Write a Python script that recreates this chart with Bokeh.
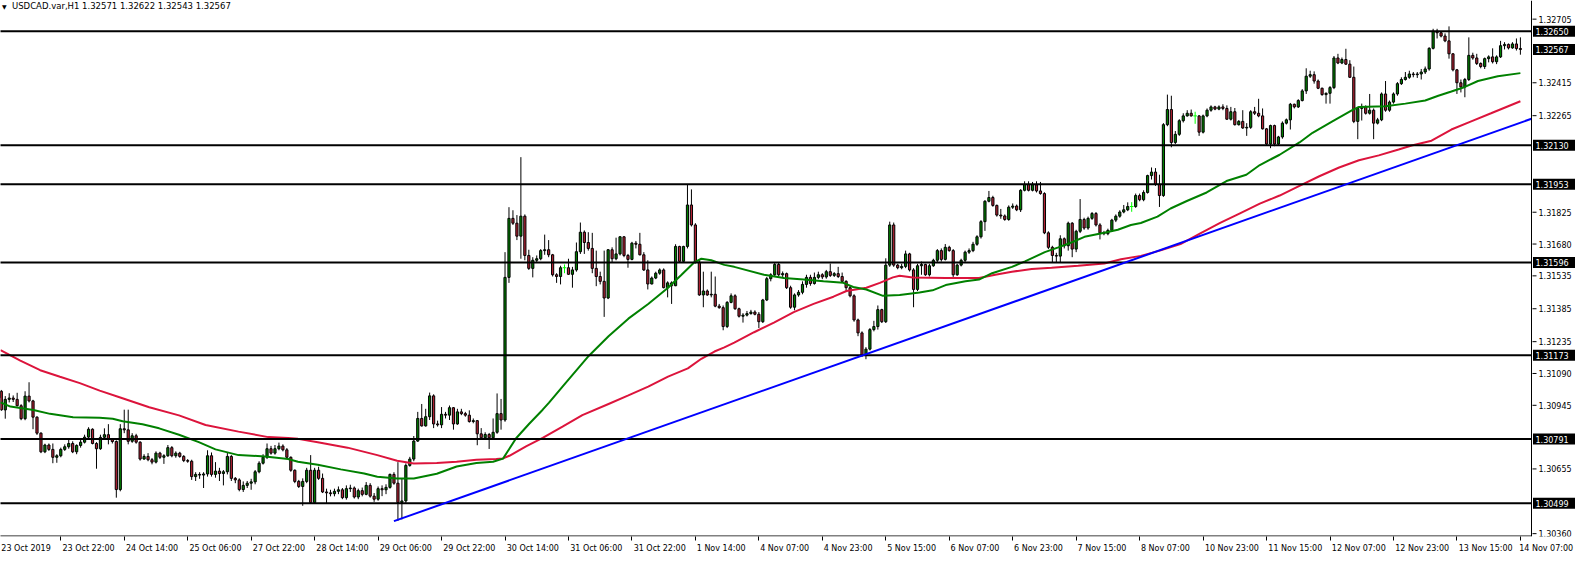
from bokeh.plotting import figure
from bokeh.models import (ColumnDataSource, Span, Label, LinearAxis, FixedTicker, Range1d,
                          CustomJSTickFormatter)
from bokeh.core.properties import value
from bokeh.embed import file_html
from bokeh.resources import INLINE

# ---------------- data ----------------
chart_title = "USDCAD.var,H1  1.32571 1.32622 1.32543 1.32567"

opens = [
    1.30980, 1.31009, 1.30924, 1.30972, 1.30978, 1.30972, 1.30943, 1.30884, 1.30987, 1.30965,
    1.30891, 1.30818, 1.30733, 1.30764, 1.30744, 1.30708, 1.30715, 1.30744, 1.30756, 1.30771,
    1.30733, 1.30762, 1.30777, 1.30800, 1.30836, 1.30771, 1.30747, 1.30799, 1.30811, 1.30792,
    1.30780, 1.30561, 1.30838, 1.30833, 1.30781, 1.30806, 1.30777, 1.30700, 1.30712, 1.30697,
    1.30686, 1.30727, 1.30708, 1.30715, 1.30752, 1.30715, 1.30727, 1.30712, 1.30693, 1.30690,
    1.30620, 1.30630, 1.30627, 1.30632, 1.30715, 1.30630, 1.30645, 1.30634, 1.30642, 1.30712,
    1.30612, 1.30605, 1.30561, 1.30580, 1.30590, 1.30596, 1.30642, 1.30681, 1.30708, 1.30747,
    1.30727, 1.30747, 1.30759, 1.30742, 1.30708, 1.30649, 1.30598, 1.30575, 1.30598, 1.30649,
    1.30502, 1.30649, 1.30612, 1.30550, 1.30546, 1.30542, 1.30553, 1.30560, 1.30524, 1.30565,
    1.30568, 1.30527, 1.30556, 1.30539, 1.30580, 1.30531, 1.30517, 1.30565, 1.30560, 1.30571,
    1.30630, 1.30590, 1.30502, 1.30509, 1.30671, 1.30700, 1.30782, 1.30885, 1.30851, 1.30893,
    1.30988, 1.30860, 1.30856, 1.30904, 1.30900, 1.30934, 1.30860, 1.30915, 1.30907, 1.30900,
    1.30871, 1.30875, 1.30815, 1.30797, 1.30812, 1.30797, 1.30822, 1.30907, 1.30878, 1.31528,
    1.31797, 1.31775, 1.31716, 1.31807, 1.31628, 1.31569, 1.31606, 1.31613, 1.31650, 1.31654,
    1.31631, 1.31540, 1.31532, 1.31572, 1.31572, 1.31542, 1.31562, 1.31645, 1.31734, 1.31687,
    1.31660, 1.31569, 1.31532, 1.31510, 1.31434, 1.31654, 1.31613, 1.31635, 1.31713, 1.31628,
    1.31610, 1.31684, 1.31679, 1.31631, 1.31562, 1.31498, 1.31525, 1.31547, 1.31562, 1.31481,
    1.31503, 1.31490, 1.31669, 1.31601, 1.31669, 1.31858, 1.31767, 1.31598, 1.31448, 1.31466,
    1.31448, 1.31451, 1.31397, 1.31390, 1.31304, 1.31414, 1.31444, 1.31385, 1.31351, 1.31356,
    1.31363, 1.31370, 1.31360, 1.31326, 1.31425, 1.31522, 1.31540, 1.31587, 1.31540, 1.31545,
    1.31481, 1.31392, 1.31448, 1.31460, 1.31496, 1.31528, 1.31500, 1.31528, 1.31540, 1.31530,
    1.31554, 1.31537, 1.31545, 1.31532, 1.31510, 1.31481, 1.31444, 1.31334, 1.31275, 1.31172,
    1.31201, 1.31290, 1.31304, 1.31381, 1.31326, 1.31584, 1.31767, 1.31584, 1.31572, 1.31578,
    1.31635, 1.31562, 1.31473, 1.31581, 1.31587, 1.31540, 1.31581, 1.31606, 1.31650, 1.31610,
    1.31665, 1.31650, 1.31540, 1.31584, 1.31606, 1.31643, 1.31650, 1.31679, 1.31713, 1.31782,
    1.31875, 1.31892, 1.31856, 1.31812, 1.31808, 1.31792, 1.31848, 1.31853, 1.31836, 1.31925,
    1.31951, 1.31925, 1.31950, 1.31922, 1.31910, 1.31731, 1.31665, 1.31628, 1.31625, 1.31704,
    1.31672, 1.31775, 1.31657, 1.31738, 1.31792, 1.31753, 1.31797, 1.31819, 1.31767, 1.31731,
    1.31727, 1.31742, 1.31789, 1.31807, 1.31826, 1.31836, 1.31851, 1.31851, 1.31901, 1.31882,
    1.31915, 1.31992, 1.32008, 1.31952, 1.31901, 1.32224, 1.32293, 1.32143, 1.32180, 1.32242,
    1.32264, 1.32276, 1.32264, 1.32264, 1.32190, 1.32264, 1.32290, 1.32305, 1.32295, 1.32305,
    1.32298, 1.32249, 1.32283, 1.32224, 1.32239, 1.32209, 1.32212, 1.32283, 1.32276, 1.32264,
    1.32205, 1.32136, 1.32220, 1.32136, 1.32168, 1.32231, 1.32246, 1.32317, 1.32305, 1.32334,
    1.32378, 1.32445, 1.32452, 1.32423, 1.32390, 1.32361, 1.32367, 1.32393, 1.32528, 1.32505,
    1.32521, 1.32500, 1.32440, 1.32239, 1.32298, 1.32305, 1.32276, 1.32290, 1.32231, 1.32246,
    1.32364, 1.32290, 1.32327, 1.32364, 1.32411, 1.32430, 1.32440, 1.32455, 1.32452, 1.32455,
    1.32464, 1.32478, 1.32572, 1.32650, 1.32643, 1.32628, 1.32606, 1.32547, 1.32474, 1.32415,
    1.32396, 1.32430, 1.32540, 1.32528, 1.32503, 1.32489, 1.32525, 1.32533, 1.32511, 1.32533,
    1.32584, 1.32590, 1.32574, 1.32592, 1.32571,
]

highs = [
    1.31020, 1.31015, 1.30987, 1.31000, 1.30990, 1.31002, 1.30950, 1.31009, 1.31050, 1.30970,
    1.30895, 1.30822, 1.30770, 1.30771, 1.30771, 1.30722, 1.30752, 1.30767, 1.30789, 1.30781,
    1.30767, 1.30789, 1.30811, 1.30845, 1.30840, 1.30777, 1.30811, 1.30840, 1.30859, 1.30796,
    1.30785, 1.30859, 1.30925, 1.30925, 1.30818, 1.30815, 1.30781, 1.30722, 1.30727, 1.30705,
    1.30735, 1.30733, 1.30722, 1.30764, 1.30759, 1.30735, 1.30733, 1.30718, 1.30700, 1.30697,
    1.30640, 1.30640, 1.30640, 1.30740, 1.30730, 1.30686, 1.30660, 1.30650, 1.30730, 1.30718,
    1.30618, 1.30612, 1.30598, 1.30600, 1.30610, 1.30650, 1.30690, 1.30722, 1.30771, 1.30760,
    1.30764, 1.30775, 1.30767, 1.30750, 1.30712, 1.30653, 1.30605, 1.30612, 1.30660, 1.30718,
    1.30660, 1.30665, 1.30634, 1.30565, 1.30560, 1.30565, 1.30575, 1.30568, 1.30580, 1.30583,
    1.30575, 1.30565, 1.30570, 1.30595, 1.30590, 1.30545, 1.30575, 1.30580, 1.30585, 1.30634,
    1.30640, 1.30686, 1.30612, 1.30680, 1.30710, 1.30805, 1.30915, 1.30951, 1.30929, 1.31003,
    1.30995, 1.30875, 1.30937, 1.30915, 1.30944, 1.30937, 1.30929, 1.30929, 1.30915, 1.30922,
    1.30885, 1.30878, 1.30841, 1.30822, 1.30819, 1.30885, 1.30999, 1.30974, 1.31643, 1.31848,
    1.31834, 1.31812, 1.32076, 1.31815, 1.31654, 1.31620, 1.31628, 1.31657, 1.31723, 1.31698,
    1.31635, 1.31547, 1.31581, 1.31587, 1.31613, 1.31576, 1.31687, 1.31778, 1.31742, 1.31734,
    1.31731, 1.31650, 1.31554, 1.31650, 1.31657, 1.31665, 1.31709, 1.31716, 1.31716, 1.31635,
    1.31690, 1.31694, 1.31731, 1.31643, 1.31606, 1.31532, 1.31554, 1.31569, 1.31569, 1.31510,
    1.31510, 1.31679, 1.31672, 1.31672, 1.31951, 1.31929, 1.31775, 1.31606, 1.31554, 1.31473,
    1.31554, 1.31532, 1.31407, 1.31400, 1.31420, 1.31455, 1.31451, 1.31390, 1.31365, 1.31375,
    1.31380, 1.31378, 1.31370, 1.31430, 1.31530, 1.31547, 1.31598, 1.31598, 1.31555, 1.31550,
    1.31490, 1.31455, 1.31470, 1.31510, 1.31540, 1.31540, 1.31550, 1.31554, 1.31547, 1.31562,
    1.31591, 1.31552, 1.31576, 1.31550, 1.31515, 1.31488, 1.31451, 1.31340, 1.31282, 1.31210,
    1.31297, 1.31330, 1.31400, 1.31385, 1.31615, 1.31782, 1.31778, 1.31590, 1.31590, 1.31650,
    1.31640, 1.31570, 1.31590, 1.31600, 1.31590, 1.31590, 1.31613, 1.31657, 1.31660, 1.31680,
    1.31672, 1.31657, 1.31590, 1.31613, 1.31650, 1.31660, 1.31690, 1.31720, 1.31789, 1.31880,
    1.31922, 1.31900, 1.31860, 1.31840, 1.31815, 1.31856, 1.31865, 1.31860, 1.31930, 1.31966,
    1.31966, 1.31963, 1.31966, 1.31963, 1.31916, 1.31738, 1.31672, 1.31640, 1.31720, 1.31710,
    1.31782, 1.31780, 1.31745, 1.31885, 1.31800, 1.31805, 1.31826, 1.31826, 1.31775, 1.31740,
    1.31750, 1.31795, 1.31815, 1.31834, 1.31858, 1.31870, 1.31871, 1.31910, 1.31910, 1.31925,
    1.31996, 1.32029, 1.32026, 1.31996, 1.32231, 1.32361, 1.32356, 1.32195, 1.32249, 1.32276,
    1.32290, 1.32293, 1.32283, 1.32268, 1.32270, 1.32298, 1.32312, 1.32310, 1.32312, 1.32317,
    1.32312, 1.32305, 1.32300, 1.32245, 1.32290, 1.32231, 1.32290, 1.32305, 1.32342, 1.32298,
    1.32209, 1.32224, 1.32224, 1.32173, 1.32239, 1.32252, 1.32323, 1.32320, 1.32340, 1.32386,
    1.32481, 1.32470, 1.32467, 1.32430, 1.32393, 1.32371, 1.32400, 1.32537, 1.32547, 1.32530,
    1.32570, 1.32518, 1.32489, 1.32305, 1.32320, 1.32312, 1.32364, 1.32298, 1.32255, 1.32371,
    1.32423, 1.32334, 1.32371, 1.32418, 1.32440, 1.32464, 1.32470, 1.32464, 1.32464, 1.32478,
    1.32489, 1.32577, 1.32661, 1.32661, 1.32650, 1.32640, 1.32672, 1.32550, 1.32478, 1.32430,
    1.32437, 1.32622, 1.32552, 1.32547, 1.32508, 1.32530, 1.32540, 1.32572, 1.32540, 1.32606,
    1.32600, 1.32594, 1.32600, 1.32617, 1.32622,
]

lows = [
    1.30970, 1.30920, 1.30884, 1.30958, 1.30960, 1.30940, 1.30877, 1.30877, 1.30958, 1.30836,
    1.30810, 1.30727, 1.30727, 1.30737, 1.30681, 1.30683, 1.30708, 1.30737, 1.30747, 1.30727,
    1.30722, 1.30752, 1.30771, 1.30789, 1.30767, 1.30656, 1.30742, 1.30790, 1.30767, 1.30771,
    1.30524, 1.30553, 1.30818, 1.30767, 1.30774, 1.30770, 1.30693, 1.30697, 1.30690, 1.30676,
    1.30680, 1.30700, 1.30678, 1.30710, 1.30708, 1.30706, 1.30706, 1.30686, 1.30683, 1.30605,
    1.30600, 1.30610, 1.30568, 1.30620, 1.30620, 1.30615, 1.30600, 1.30580, 1.30630, 1.30600,
    1.30590, 1.30553, 1.30550, 1.30568, 1.30560, 1.30585, 1.30635, 1.30675, 1.30700, 1.30720,
    1.30720, 1.30740, 1.30735, 1.30700, 1.30642, 1.30590, 1.30568, 1.30487, 1.30590, 1.30495,
    1.30495, 1.30605, 1.30545, 1.30497, 1.30530, 1.30530, 1.30540, 1.30517, 1.30515, 1.30550,
    1.30520, 1.30517, 1.30530, 1.30535, 1.30524, 1.30505, 1.30510, 1.30531, 1.30540, 1.30565,
    1.30583, 1.30418, 1.30425, 1.30500, 1.30665, 1.30690, 1.30778, 1.30848, 1.30848, 1.30878,
    1.30841, 1.30848, 1.30841, 1.30885, 1.30878, 1.30834, 1.30856, 1.30900, 1.30893, 1.30866,
    1.30863, 1.30763, 1.30790, 1.30790, 1.30746, 1.30790, 1.30815, 1.30834, 1.30870, 1.31503,
    1.31767, 1.31698, 1.31613, 1.31606, 1.31562, 1.31528, 1.31598, 1.31606, 1.31631, 1.31620,
    1.31532, 1.31503, 1.31496, 1.31547, 1.31540, 1.31481, 1.31554, 1.31635, 1.31635, 1.31650,
    1.31547, 1.31488, 1.31496, 1.31348, 1.31429, 1.31598, 1.31606, 1.31628, 1.31620, 1.31572,
    1.31606, 1.31660, 1.31628, 1.31557, 1.31473, 1.31496, 1.31520, 1.31540, 1.31478, 1.31437,
    1.31407, 1.31488, 1.31598, 1.31598, 1.31660, 1.31760, 1.31591, 1.31444, 1.31392, 1.31444,
    1.31437, 1.31392, 1.31385, 1.31287, 1.31297, 1.31410, 1.31380, 1.31345, 1.31322, 1.31350,
    1.31358, 1.31355, 1.31297, 1.31320, 1.31420, 1.31510, 1.31532, 1.31532, 1.31530, 1.31475,
    1.31385, 1.31378, 1.31440, 1.31451, 1.31481, 1.31490, 1.31495, 1.31520, 1.31520, 1.31522,
    1.31530, 1.31530, 1.31525, 1.31505, 1.31466, 1.31437, 1.31326, 1.31260, 1.31165, 1.31155,
    1.31195, 1.31282, 1.31290, 1.31320, 1.31320, 1.31576, 1.31576, 1.31565, 1.31565, 1.31570,
    1.31555, 1.31392, 1.31466, 1.31540, 1.31535, 1.31532, 1.31576, 1.31598, 1.31600, 1.31605,
    1.31645, 1.31530, 1.31535, 1.31578, 1.31598, 1.31635, 1.31643, 1.31672, 1.31705, 1.31740,
    1.31870, 1.31850, 1.31805, 1.31795, 1.31786, 1.31786, 1.31840, 1.31830, 1.31826, 1.31920,
    1.31920, 1.31920, 1.31915, 1.31905, 1.31725, 1.31657, 1.31598, 1.31598, 1.31598, 1.31660,
    1.31650, 1.31620, 1.31643, 1.31730, 1.31745, 1.31745, 1.31790, 1.31760, 1.31701, 1.31720,
    1.31720, 1.31735, 1.31780, 1.31800, 1.31820, 1.31830, 1.31827, 1.31845, 1.31875, 1.31875,
    1.31910, 1.31974, 1.31945, 1.31849, 1.31895, 1.32217, 1.32121, 1.32136, 1.32173, 1.32234,
    1.32261, 1.32261, 1.32228, 1.32173, 1.32184, 1.32258, 1.32283, 1.32290, 1.32290, 1.32290,
    1.32246, 1.32243, 1.32220, 1.32220, 1.32205, 1.32173, 1.32205, 1.32268, 1.32258, 1.32202,
    1.32129, 1.32117, 1.32126, 1.32131, 1.32160, 1.32225, 1.32202, 1.32298, 1.32300, 1.32330,
    1.32364, 1.32437, 1.32411, 1.32386, 1.32356, 1.32320, 1.32320, 1.32386, 1.32500, 1.32500,
    1.32496, 1.32437, 1.32231, 1.32158, 1.32243, 1.32270, 1.32270, 1.32158, 1.32225, 1.32240,
    1.32283, 1.32283, 1.32320, 1.32356, 1.32405, 1.32425, 1.32433, 1.32440, 1.32437, 1.32430,
    1.32455, 1.32470, 1.32567, 1.32617, 1.32622, 1.32600, 1.32525, 1.32467, 1.32364, 1.32371,
    1.32349, 1.32423, 1.32520, 1.32496, 1.32481, 1.32478, 1.32508, 1.32503, 1.32500, 1.32528,
    1.32567, 1.32567, 1.32570, 1.32562, 1.32543,
]

closes = [
    1.31009, 1.30924, 1.30972, 1.30978, 1.30972, 1.30943, 1.30884, 1.30987, 1.30965, 1.30891,
    1.30818, 1.30733, 1.30764, 1.30744, 1.30708, 1.30715, 1.30744, 1.30756, 1.30771, 1.30733,
    1.30762, 1.30777, 1.30800, 1.30836, 1.30771, 1.30747, 1.30799, 1.30811, 1.30792, 1.30780,
    1.30561, 1.30838, 1.30833, 1.30781, 1.30806, 1.30777, 1.30700, 1.30712, 1.30697, 1.30686,
    1.30727, 1.30708, 1.30715, 1.30752, 1.30715, 1.30727, 1.30712, 1.30693, 1.30690, 1.30620,
    1.30630, 1.30627, 1.30632, 1.30715, 1.30630, 1.30645, 1.30634, 1.30642, 1.30712, 1.30612,
    1.30605, 1.30561, 1.30580, 1.30590, 1.30596, 1.30642, 1.30681, 1.30708, 1.30747, 1.30727,
    1.30747, 1.30759, 1.30742, 1.30708, 1.30649, 1.30598, 1.30575, 1.30598, 1.30649, 1.30502,
    1.30649, 1.30612, 1.30550, 1.30546, 1.30542, 1.30553, 1.30560, 1.30524, 1.30565, 1.30568,
    1.30527, 1.30556, 1.30539, 1.30580, 1.30531, 1.30517, 1.30565, 1.30560, 1.30571, 1.30630,
    1.30590, 1.30502, 1.30509, 1.30671, 1.30700, 1.30782, 1.30885, 1.30851, 1.30893, 1.30988,
    1.30860, 1.30856, 1.30904, 1.30900, 1.30934, 1.30860, 1.30915, 1.30907, 1.30900, 1.30871,
    1.30875, 1.30815, 1.30797, 1.30812, 1.30797, 1.30822, 1.30907, 1.30878, 1.31528, 1.31797,
    1.31775, 1.31716, 1.31807, 1.31628, 1.31569, 1.31606, 1.31613, 1.31650, 1.31654, 1.31631,
    1.31540, 1.31532, 1.31572, 1.31572, 1.31542, 1.31562, 1.31645, 1.31734, 1.31687, 1.31660,
    1.31569, 1.31532, 1.31510, 1.31434, 1.31654, 1.31613, 1.31635, 1.31713, 1.31628, 1.31610,
    1.31684, 1.31679, 1.31631, 1.31562, 1.31498, 1.31525, 1.31547, 1.31562, 1.31481, 1.31503,
    1.31490, 1.31669, 1.31601, 1.31669, 1.31858, 1.31767, 1.31598, 1.31448, 1.31466, 1.31448,
    1.31451, 1.31397, 1.31390, 1.31304, 1.31414, 1.31444, 1.31385, 1.31351, 1.31356, 1.31363,
    1.31370, 1.31360, 1.31326, 1.31425, 1.31522, 1.31540, 1.31587, 1.31540, 1.31545, 1.31481,
    1.31392, 1.31448, 1.31460, 1.31496, 1.31528, 1.31500, 1.31528, 1.31540, 1.31530, 1.31554,
    1.31537, 1.31545, 1.31532, 1.31510, 1.31481, 1.31444, 1.31334, 1.31275, 1.31172, 1.31201,
    1.31290, 1.31304, 1.31381, 1.31326, 1.31584, 1.31767, 1.31584, 1.31572, 1.31578, 1.31635,
    1.31562, 1.31473, 1.31581, 1.31587, 1.31540, 1.31581, 1.31606, 1.31650, 1.31610, 1.31665,
    1.31650, 1.31540, 1.31584, 1.31606, 1.31643, 1.31650, 1.31679, 1.31713, 1.31782, 1.31875,
    1.31892, 1.31856, 1.31812, 1.31808, 1.31792, 1.31848, 1.31853, 1.31836, 1.31925, 1.31951,
    1.31925, 1.31950, 1.31922, 1.31910, 1.31731, 1.31665, 1.31628, 1.31625, 1.31704, 1.31672,
    1.31775, 1.31657, 1.31738, 1.31792, 1.31753, 1.31797, 1.31819, 1.31767, 1.31731, 1.31727,
    1.31742, 1.31789, 1.31807, 1.31826, 1.31836, 1.31851, 1.31851, 1.31901, 1.31882, 1.31915,
    1.31992, 1.32008, 1.31952, 1.31901, 1.32224, 1.32293, 1.32143, 1.32180, 1.32242, 1.32264,
    1.32276, 1.32264, 1.32264, 1.32190, 1.32264, 1.32290, 1.32305, 1.32295, 1.32305, 1.32298,
    1.32249, 1.32283, 1.32224, 1.32239, 1.32209, 1.32212, 1.32283, 1.32276, 1.32264, 1.32205,
    1.32136, 1.32220, 1.32136, 1.32168, 1.32231, 1.32246, 1.32317, 1.32305, 1.32334, 1.32378,
    1.32445, 1.32452, 1.32423, 1.32390, 1.32361, 1.32367, 1.32393, 1.32528, 1.32505, 1.32521,
    1.32500, 1.32440, 1.32239, 1.32298, 1.32305, 1.32276, 1.32290, 1.32231, 1.32246, 1.32364,
    1.32290, 1.32327, 1.32364, 1.32411, 1.32430, 1.32440, 1.32455, 1.32452, 1.32455, 1.32464,
    1.32478, 1.32572, 1.32650, 1.32643, 1.32628, 1.32606, 1.32547, 1.32474, 1.32415, 1.32396,
    1.32430, 1.32540, 1.32528, 1.32503, 1.32489, 1.32525, 1.32533, 1.32511, 1.32533, 1.32584,
    1.32590, 1.32574, 1.32592, 1.32571, 1.32567,
]

# time-axis labels, one every 16 hourly bars starting at the first bar
date_labels = [
    "23 Oct 2019", "23 Oct 22:00", "24 Oct 14:00", "25 Oct 06:00", "27 Oct 22:00",
    "28 Oct 14:00", "29 Oct 06:00", "29 Oct 22:00", "30 Oct 14:00", "31 Oct 06:00",
    "31 Oct 22:00", "1 Nov 14:00", "4 Nov 07:00", "4 Nov 23:00", "5 Nov 15:00",
    "6 Nov 07:00", "6 Nov 23:00", "7 Nov 15:00", "8 Nov 07:00", "10 Nov 23:00",
    "11 Nov 15:00", "12 Nov 07:00", "12 Nov 23:00", "13 Nov 15:00", "14 Nov 07:00",
]
bars_per_label = 16

price_ticks = [1.32705, 1.32415, 1.32265, 1.31825, 1.31680, 1.31535, 1.31385,
               1.31235, 1.31090, 1.30945, 1.30655, 1.30360]
level_prices = [1.32650, 1.32130, 1.31953, 1.31596, 1.31173, 1.30791, 1.30499]
last_price = 1.32567

# moving averages (bar position, value)
ma_fast_x = [0.8, 3.3, 9.1, 13.3, 19.1, 25.8, 29.1, 31.6, 36.6, 40.8, 45.8, 50.8, 55.0, 60.8, 67.5,
             73.3, 75.8, 80.8, 86.6, 92.5, 95.8, 100.8, 105.0, 110.8, 115.8, 120.8, 125.0, 127.5,
             130.8, 134.1, 137.5, 139.1, 142.5, 149.1, 154.1, 159.1, 164.1, 169.1, 172.5, 175.8,
             177.5, 180.0, 183.3, 185.8, 193.3, 198.3, 203.3, 208.3, 213.3, 215.8, 219.1, 223.3,
             227.5, 232.5, 235.8, 239.1, 244.1, 247.5, 250.8, 255.8, 259.1, 264.1, 267.5, 270.8,
             274.1, 279.1, 282.5, 285.8, 288.3, 292.5, 295.8, 299.9, 304.9, 309.9, 314.9, 318.3,
             323.3, 328.3, 331.6, 336.6, 341.6, 343.3, 350.0, 355.0, 360.0, 363.3, 366.6, 370.0,
             373.3, 378.3, 384.0]
ma_fast = [1.30958, 1.30939, 1.30924, 1.30906, 1.30891, 1.30888, 1.30884, 1.30872, 1.30859, 1.30840,
           1.30811, 1.30777, 1.30744, 1.30718, 1.30712, 1.30700, 1.30688, 1.30674, 1.30653, 1.30634,
           1.30619, 1.30611, 1.30611, 1.30633, 1.30666, 1.30682, 1.30688, 1.30702, 1.30795, 1.30861,
           1.30925, 1.30957, 1.31030, 1.31170, 1.31260, 1.31340, 1.31407, 1.31481, 1.31540, 1.31598,
           1.31613, 1.31606, 1.31585, 1.31576, 1.31540, 1.31525, 1.31518, 1.31510, 1.31503, 1.31484,
           1.31473, 1.31444, 1.31448, 1.31459, 1.31469, 1.31493, 1.31510, 1.31518, 1.31547, 1.31576,
           1.31601, 1.31643, 1.31665, 1.31687, 1.31713, 1.31731, 1.31745, 1.31767, 1.31776, 1.31805,
           1.31842, 1.31876, 1.31915, 1.31967, 1.31996, 1.32040, 1.32087, 1.32143, 1.32187, 1.32239,
           1.32290, 1.32305, 1.32308, 1.32320, 1.32334, 1.32356, 1.32375, 1.32396, 1.32423, 1.32445,
           1.32459]
ma_slow_x = [0.8, 5.8, 10.8, 15.8, 20.8, 25.8, 30.8, 38.3, 45.8, 52.5, 60.8, 68.3, 73.3, 75.8, 80.8,
             88.3, 95.8, 100.8, 105.0, 110.8, 115.8, 120.8, 125.8, 127.5, 129.1, 133.3, 137.5, 142.5,
             147.5, 154.1, 159.1, 164.1, 169.1, 174.1, 177.5, 180.8, 183.3, 185.8, 190.8, 195.8,
             200.8, 205.8, 210.8, 214.1, 219.1, 222.5, 225.8, 227.5, 230.8, 239.1, 247.5, 251.6,
             255.8, 260.8, 265.8, 272.5, 279.1, 283.3, 288.3, 293.3, 298.3, 303.3, 308.3, 313.3,
             318.3, 323.3, 328.3, 333.3, 338.3, 343.3, 348.3, 353.3, 356.6, 361.6, 366.6, 371.6,
             376.6, 384.0]
ma_slow = [1.31196, 1.31149, 1.31105, 1.31075, 1.31046, 1.31012, 1.30982, 1.30936, 1.30899, 1.30855,
           1.30825, 1.30800, 1.30796, 1.30792, 1.30777, 1.30752, 1.30718, 1.30692, 1.30680, 1.30682,
           1.30688, 1.30697, 1.30700, 1.30703, 1.30715, 1.30758, 1.30797, 1.30848, 1.30900, 1.30951,
           1.30990, 1.31030, 1.31076, 1.31113, 1.31157, 1.31190, 1.31209, 1.31231, 1.31278, 1.31322,
           1.31370, 1.31407, 1.31440, 1.31466, 1.31481, 1.31503, 1.31528, 1.31535, 1.31528, 1.31525,
           1.31525, 1.31540, 1.31554, 1.31566, 1.31572, 1.31581, 1.31591, 1.31611, 1.31626, 1.31651,
           1.31680, 1.31729, 1.31776, 1.31820, 1.31864, 1.31901, 1.31945, 1.31989, 1.32029, 1.32062,
           1.32084, 1.32111, 1.32129, 1.32151, 1.32202, 1.32239, 1.32276, 1.32331]

# rising trend line (anchor points: bar position / price), runs to the price scale
trend_x = [100.0, 386.8]
trend_y = [1.30417, 1.32251]

# ---------------- layout ----------------
W, H = 1575, 555
SCALE_W = 44          # width of the price-scale column
BOTTOM = 14
X0, X_AXIS = 0.8, 386.8   # visible bars; X_AXIS is where the price scale starts
Y0, Y1 = 1.30347, 1.32790
FONT = "DejaVu Sans"
FS = "8px"
px_per_bar = (W - SCALE_W) / (X_AXIS - X0)
X1 = X0 + W / px_per_bar
px_per_price = (H - BOTTOM) / (Y1 - Y0)

UP, DOWN, DOJI = "#008000", "#B22234", "#00FF00"

bars = list(range(len(closes)))
body_top, body_bot, fill, wick_col = [], [], [], []
for o, c in zip(opens, closes):
    body_top.append(max(o, c))
    body_bot.append(min(o, c))
    if c > o:
        fill.append(UP); wick_col.append("black")
    elif c < o:
        fill.append(DOWN); wick_col.append("black")
    else:
        fill.append(DOJI); wick_col.append(DOJI)

src = ColumnDataSource(dict(x=bars, o=opens, h=highs, l=lows, c=closes,
                            top=body_top, bot=body_bot, fill=fill, wc=wick_col))

p = figure(width=W, height=H, output_backend="svg", toolbar_location=None,
           x_range=Range1d(X0, X1), y_range=Range1d(Y0, Y1),
           x_axis_location=None, y_axis_location=None,
           min_border_left=0, min_border_top=0, min_border_right=0,
           min_border_bottom=BOTTOM)
p.outline_line_color = None
p.background_fill_color = "white"
p.border_fill_color = "white"
p.xgrid.visible = False
p.ygrid.visible = False

# candles
p.segment(x0="x", y0="l", x1="x", y1="h", line_color="wc", line_width=1, source=src)
non_doji = ColumnDataSource(dict(
    x=[b for b, f in zip(bars, fill) if f != DOJI],
    top=[t for t, f in zip(body_top, fill) if f != DOJI],
    bot=[t for t, f in zip(body_bot, fill) if f != DOJI],
    fill=[f for f in fill if f != DOJI]))
p.vbar(x="x", width=0.55, top="top", bottom="bot", fill_color="fill",
       line_color="black", line_width=1, source=non_doji)
doji_x = [b for b, f in zip(bars, fill) if f == DOJI]
doji_y = [o for o, f in zip(opens, fill) if f == DOJI]
p.segment(x0=[x - 0.45 for x in doji_x], y0=doji_y, x1=[x + 0.45 for x in doji_x], y1=doji_y,
          line_color=DOJI, line_width=1)

# moving averages
p.line(ma_slow_x, ma_slow, line_color="#DC143C", line_width=2)
p.line(ma_fast_x, ma_fast, line_color="#008000", line_width=2)

# horizontal levels, ending at the price scale
p.segment(x0=[X0 - 2] * len(level_prices), y0=level_prices,
          x1=[X_AXIS] * len(level_prices), y1=level_prices,
          line_color="black", line_width=2)

# trend line
p.line(trend_x, trend_y, line_color="#0000FF", line_width=2)

# ---- price scale column (right) ----
p.add_layout(Span(location=X_AXIS, dimension="height", line_color="black", line_width=1))
n = len(price_ticks)
p.segment(x0=[X_AXIS + 1 / px_per_bar] * n, y0=price_ticks,
          x1=[X_AXIS + 5 / px_per_bar] * n, y1=price_ticks, line_color="black", line_width=1)
p.text(x=[X_AXIS + 7 / px_per_bar] * n, y=price_ticks, text=[f"{v:.5f}" for v in price_ticks],
       text_align="left", text_baseline="middle", text_font=value(FONT),
       text_font_size=FS, text_color="black")

box_prices = level_prices + [last_price]
m = len(box_prices)
p.rect(x=[X_AXIS + (1.5 + 21.0) / px_per_bar] * m, y=box_prices, width=42, height=11,
       width_units="screen", height_units="screen", fill_color="black", line_color=None)
p.text(x=[X_AXIS + 4 / px_per_bar] * m, y=box_prices, text=[f"{v:.5f}" for v in box_prices],
       text_align="left", text_baseline="middle", text_font=value(FONT),
       text_font_size=FS, text_color="white")

# bottom border line of the chart area (stops at the price scale)
p.segment(x0=[X0 - 2], y0=[Y0 + 0.5 / px_per_price], x1=[X_AXIS], y1=[Y0 + 0.5 / px_per_price],
          line_color="black", line_width=1)

# ---- time axis (bottom) ----
char_w = {ch: 0.636 for ch in "0123456789"}
char_w.update({" ": 0.318, ":": 0.337, "O": 0.787, "c": 0.55, "t": 0.392,
               "N": 0.748, "o": 0.612, "v": 0.592})


def text_px(s, size=8.0):
    return sum(char_w.get(ch, 0.6) for ch in s) * size


label_bar = [k * bars_per_label for k in range(len(date_labels))]
centers = []
for b, s in zip(label_bar, date_labels):
    half = text_px(s) / 2
    c = b + (1.5 + half) / px_per_bar
    c = max(c, X0 + (half + 1) / px_per_bar)          # keep the first label on the canvas
    c = min(c, X1 - (half + 2) / px_per_bar)          # and the last one
    centers.append(round(c * 4) / 4)
xfmt = CustomJSTickFormatter(args=dict(pos=centers, labs=date_labels), code="""
    let best = 0, bd = 1e9;
    for (let i = 0; i < pos.length; i++) {
        const d = Math.abs(pos[i] - tick);
        if (d < bd) { bd = d; best = i; }
    }
    return labs[best];
""")
xaxis = LinearAxis(ticker=FixedTicker(ticks=centers, minor_ticks=label_bar), formatter=xfmt)
xaxis.axis_line_color = None
xaxis.major_tick_line_color = None
xaxis.major_tick_out = 0
xaxis.major_tick_in = 0
xaxis.minor_tick_line_color = "black"
xaxis.minor_tick_out = 4
xaxis.minor_tick_in = 0
xaxis.major_label_standoff = 3
xaxis.major_label_text_font = FONT
xaxis.major_label_text_font_size = FS
xaxis.major_label_text_color = "black"
p.add_layout(xaxis, "below")

# chart header
top_y = Y1 - 6 / px_per_price
p.add_layout(Label(x=X0 + 1.5 / px_per_bar, y=top_y, text="\u25BC", text_align="left",
                   text_baseline="middle", text_font=FONT, text_font_size="6px",
                   text_color="black"))
p.add_layout(Label(x=X0 + 11.5 / px_per_bar, y=top_y, text=chart_title, text_align="left",
                   text_baseline="middle", text_font=FONT, text_font_size="8.5px",
                   text_color="black"))

open("out.html", "w").write(file_html(p, INLINE))
